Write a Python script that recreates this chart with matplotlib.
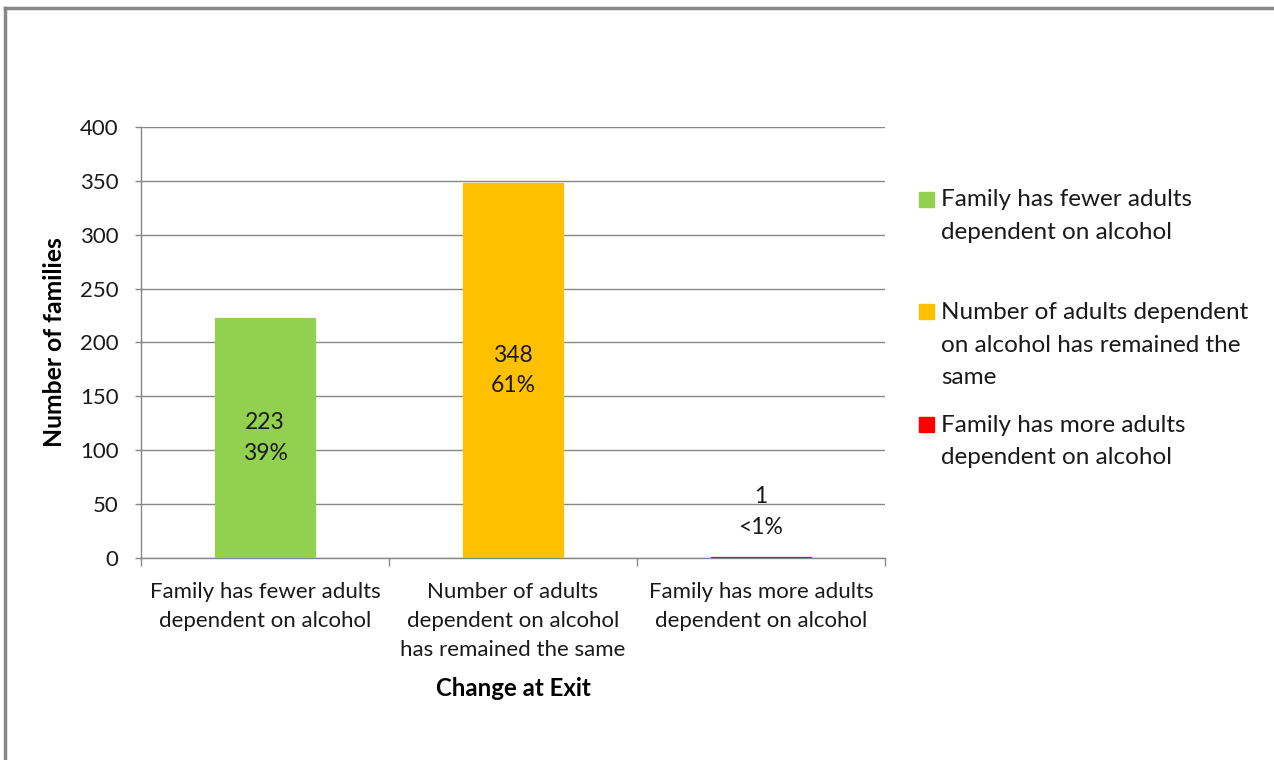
import matplotlib
matplotlib.use("Agg")
import matplotlib.pyplot as plt
from matplotlib.patches import Rectangle
from matplotlib.lines import Line2D

categories = ["Family has fewer adults\ndependent on alcohol",
              "Number of adults\ndependent on alcohol\nhas remained the same",
              "Family has more adults\ndependent on alcohol"]
legend_labels = [["Family has fewer adults", "dependent on alcohol"],
                 ["Number of adults dependent", "on alcohol has remained the", "same"],
                 ["Family has more adults", "dependent on alcohol"]]
values = [223, 348, 1]
percents = ["39%", "61%", "<1%"]
colors = ["#92D050", "#FFC000", "#FF0000"]
yticks = [0, 50, 100, 150, 200, 250, 300, 350, 400]

plt.rcParams['font.family'] = ['Lato', 'DejaVu Sans']
FS = 16
TXT = "#1a1a1a"
GRID = "#878787"
W, H = 1274, 760

fig = plt.figure(figsize=(12.74, 7.6), dpi=100)
ax = fig.add_axes([141/W, 1-558/H, 744/W, 431/H])

x = list(range(len(values)))
ax.bar(x, values, width=0.4, color=colors, edgecolor=colors, linewidth=0.9, zorder=3)
ax.set_xlim(-0.5, 2.5)
ax.set_ylim(0, 400)
ax.set_yticks(yticks)
ax.set_yticklabels([str(t) for t in yticks], fontsize=FS, color=TXT)
ax.set_xticks(x)
ax.set_xticklabels(categories, fontsize=FS, color=TXT, linespacing=1.55)
ax.tick_params(axis='x', length=0, pad=17.5)
ax.tick_params(axis='y', length=4.3, color=GRID, width=1, pad=12)
ax.set_xticks([-0.5, 0.5, 1.5, 2.5], minor=True)
ax.tick_params(axis='x', which='minor', length=5.8, color=GRID, width=1)
ax.yaxis.grid(True, color=GRID, linewidth=1, zorder=0)
ax.set_axisbelow(True)
for s in ['top', 'right']:
    ax.spines[s].set_visible(False)
for s in ['left', 'bottom']:
    ax.spines[s].set_color(GRID)
    ax.spines[s].set_linewidth(1)

ax.set_ylabel("Number of families", fontsize=17.8, fontweight='bold', color='black', va='center')
ax.yaxis.set_label_coords((55-141)/744, 0.5)
ax.set_xlabel("Change at Exit", fontsize=17.3, fontweight='bold', color='black', va='center')
ax.xaxis.set_label_coords(0.5, (558-688)/431)

for i, (v, p) in enumerate(zip(values, percents)):
    if v > 50:
        ax.text(i, v/2, f"{v}\n{p}", ha='center', va='center', fontsize=16.5, color=TXT, linespacing=1.58, zorder=4)
    else:
        ax.annotate(f"{v}\n{p}", xy=(i, v), xytext=(0, 32.5), textcoords='offset points',
                    ha='center', va='center', fontsize=16.5, color=TXT, linespacing=1.58, zorder=4)

# legend (manual, equal-height entries)
entry_y = [199, 311.5, 424.5]
pitch = 32.5
for y0, lines, c in zip(entry_y, legend_labels, colors):
    fig.patches.append(Rectangle((919/W, 1-(y0+7.5)/H), 15/W, 15/H,
                                 transform=fig.transFigure, color=c, figure=fig))
    for k, line in enumerate(lines):
        fig.text(941/W, 1-(y0 - 1 + k*pitch)/H, line, ha='left', va='center_baseline',
                 fontsize=17.5, color=TXT)

# outer border (left and top)
fig.lines.append(Line2D([5/W, 5/W], [0, 1-8/H], transform=fig.transFigure, color=GRID, linewidth=2.5))
fig.lines.append(Line2D([5/W, 1], [1-8/H, 1-8/H], transform=fig.transFigure, color=GRID, linewidth=2.5))

fig.savefig("out.png", dpi=100)
